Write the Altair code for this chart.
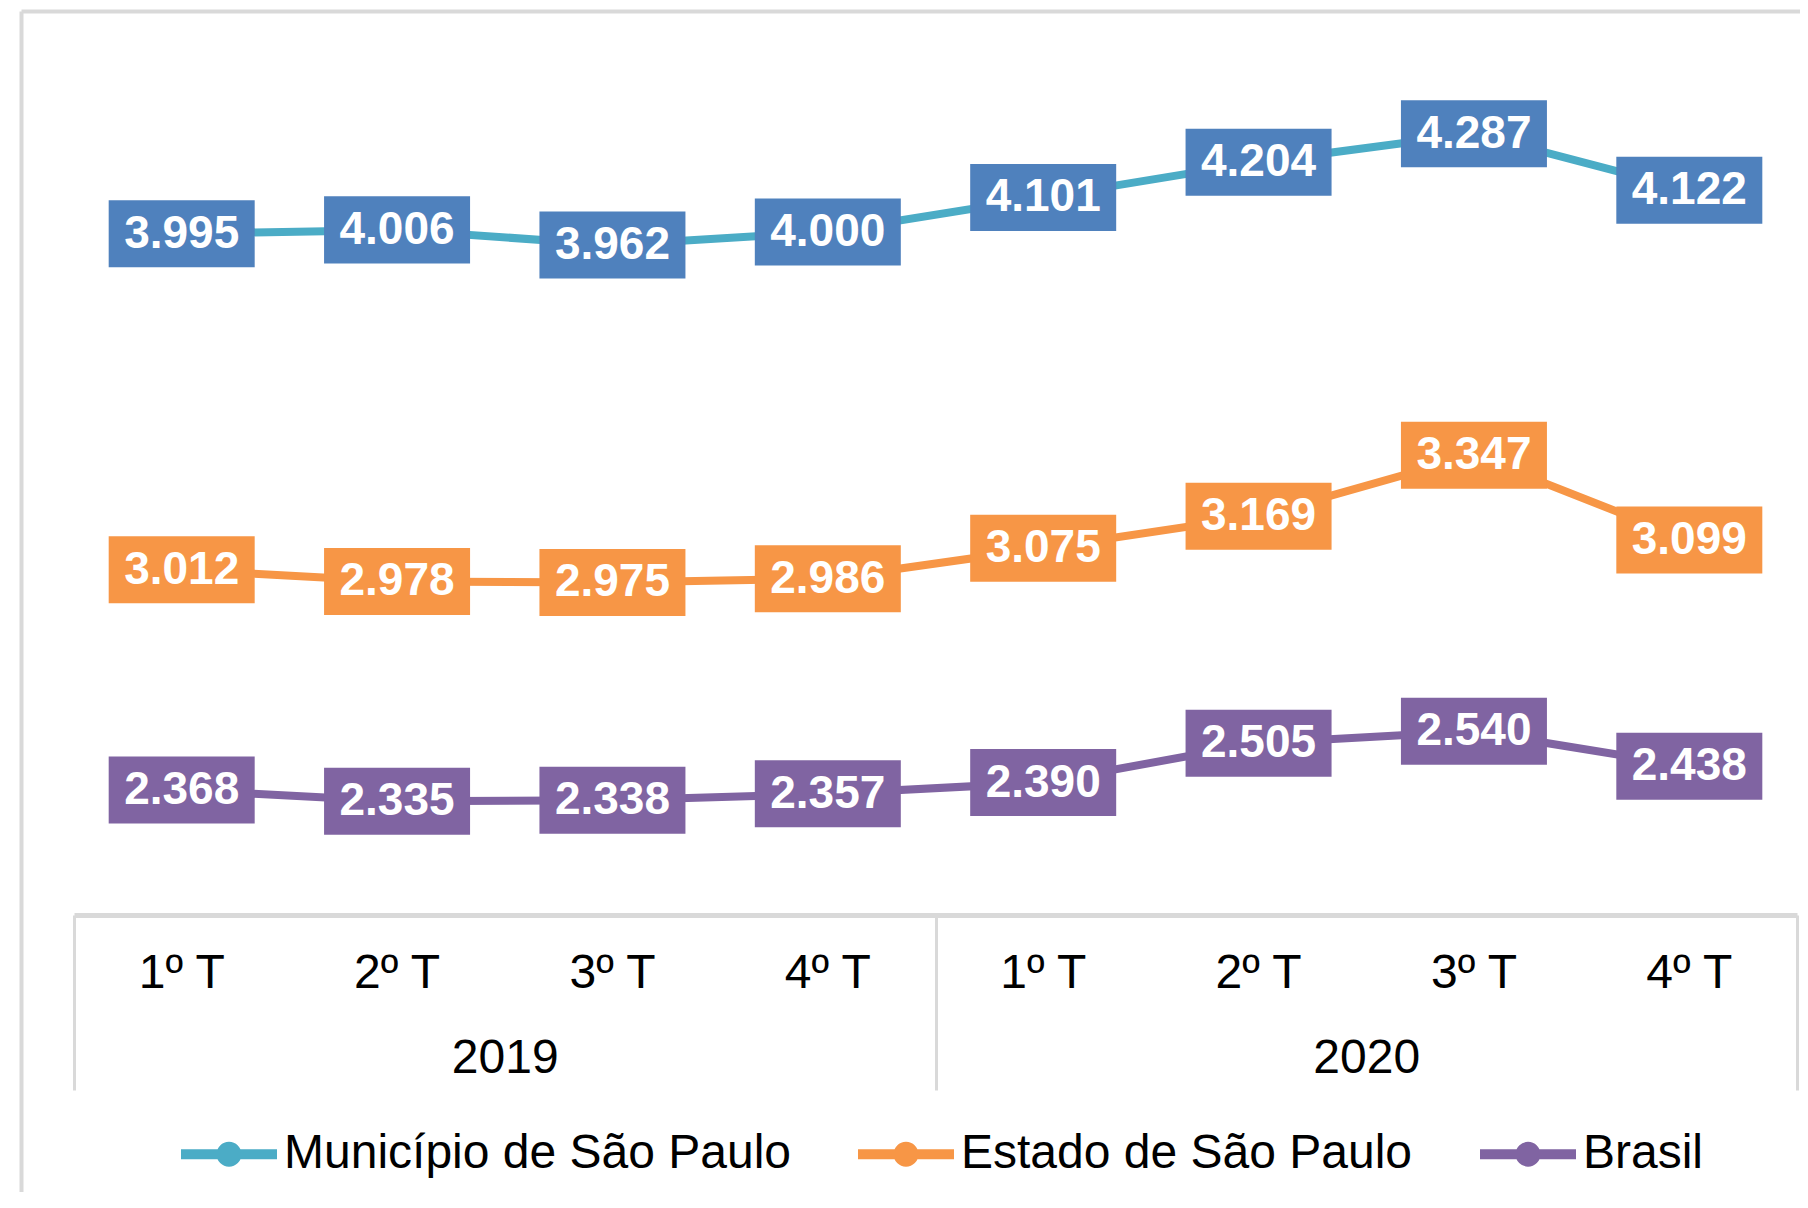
import altair as alt
import pandas as pd

# ---- data ----
quarters = ["1º T", "2º T", "3º T", "4º T", "1º T", "2º T", "3º T", "4º T"]
quarter_years = ["2019", "2019", "2019", "2019", "2020", "2020", "2020", "2020"]
years = ["2019", "2020"]
series = ["Município de São Paulo", "Estado de São Paulo", "Brasil"]
municipio = [3995, 4006, 3962, 4000, 4101, 4204, 4287, 4122]
estado = [3012, 2978, 2975, 2986, 3075, 3169, 3347, 3099]
brasil = [2368, 2335, 2338, 2357, 2390, 2505, 2540, 2438]
line_colors = ["#4BACC6", "#F79646", "#8064A2"]
box_colors = ["#4F81BD", "#F79646", "#8064A2"]

keys = [f"{y}|{q}" for y, q in zip(quarter_years, quarters)]
rows = []
for s, vals, bc in zip(series, [municipio, estado, brasil], box_colors):
    for k, v in zip(keys, vals):
        rows.append({"key": k, "serie": s, "v": v, "boxcolor": bc})
df = pd.DataFrame(rows)
years_df = pd.DataFrame({"year": years})

FONT = "Liberation Sans"
GRAY = "#D9D9D9"
W, H = 1779, 1181
X0, X1 = 53, 1776  # band range inside the frame
AX_OFF = -277

xq = alt.X(
    "key:N",
    sort=keys,
    scale=alt.Scale(type="band", paddingInner=0, paddingOuter=0, range=[X0, X1]),
    axis=alt.Axis(
        orient="bottom", offset=AX_OFF, ticks=False, grid=False,
        domain=True, domainColor=GRAY, domainWidth=5,
        labelExpr="split(datum.value, '|')[1]",
        labelPadding=58, labelBaseline="middle", labelAngle=0,
        labelFontSize=48, labelFont=FONT, labelColor="#000000",
        title=None,
    ),
)
yv = alt.Y(
    "v:Q",
    scale=alt.Scale(domain=[1192.8, 4646], zero=False, nice=False),
    axis=alt.Axis(
        orient="left", domain=True, domainColor=GRAY, domainWidth=4,
        ticks=False, labels=False, grid=False, title=None,
    ),
)

legend_symbol = "M-1,0H1M-0.156,0A0.156,0.156 0 1,0 0.156,0A0.156,0.156 0 1,0 -0.156,0Z"

base = alt.Chart(df)
lines = base.mark_line(strokeWidth=8).encode(
    x=xq, y=yv,
    color=alt.Color(
        "serie:N",
        scale=alt.Scale(domain=series, range=line_colors),
        sort=series,
        legend=alt.Legend(
            orient="none", legendX=155, legendY=1090, direction="horizontal",
            title=None, symbolType=legend_symbol, symbolSize=96 * 96,
            symbolStrokeWidth=10, labelFontSize=48, labelFont=FONT,
            labelColor="#000000", labelOffset=2, columnPadding=47, padding=0,
            labelLimit=1000,
        ),
    ),
    detail="serie:N",
)
box_shape = "M-1,-0.459L1,-0.459L1,0.459L-1,0.459Z"
boxes = base.mark_point(
    shape=box_shape, filled=True, opacity=1, size=146 * 146, strokeWidth=0
).encode(x=xq, y=yv, fill=alt.Fill("boxcolor:N", scale=None))
labels = base.transform_calculate(
    label="replace(format(datum.v, ','), ',', '.')"
).mark_text(
    color="white", fontSize=46, font=FONT, fontWeight="bold",
    baseline="middle", align="center"
).encode(x=xq, y=yv, text="label:N")

data_layer = alt.layer(lines, boxes, labels)

year_layer = alt.Chart(years_df).mark_point(opacity=0).encode(
    x=alt.X(
        "year:N",
        scale=alt.Scale(type="band", paddingInner=0, paddingOuter=0, range=[X0, X1]),
        axis=alt.Axis(
            orient="bottom", offset=AX_OFF, tickBand="extent", tickSize=175,
            tickWidth=3, tickColor=GRAY, domain=False, grid=False,
            labelPadding=-32, labelBaseline="middle", labelAngle=0,
            labelFontSize=48, labelFont=FONT, labelColor="#000000", title=None,
        ),
    )
)
frame_layer = alt.Chart(years_df).mark_point(opacity=0).encode(
    x=alt.X(
        "year:N",
        scale=alt.Scale(type="point"),
        axis=alt.Axis(
            orient="top", domain=True, domainColor=GRAY, domainWidth=4,
            ticks=False, labels=False, grid=False, title=None,
        ),
    )
)

chart = (
    alt.layer(data_layer, year_layer, frame_layer)
    .resolve_scale(x="independent")
    .properties(
        width=W, height=H,
        autosize=alt.AutoSizeParams(type="none"),
        padding={"left": 13, "top": 3, "right": 0, "bottom": 0},
    )
    .configure_view(stroke=None)
)

chart.save("out.html", embed_options={"renderer": "svg", "actions": False})
